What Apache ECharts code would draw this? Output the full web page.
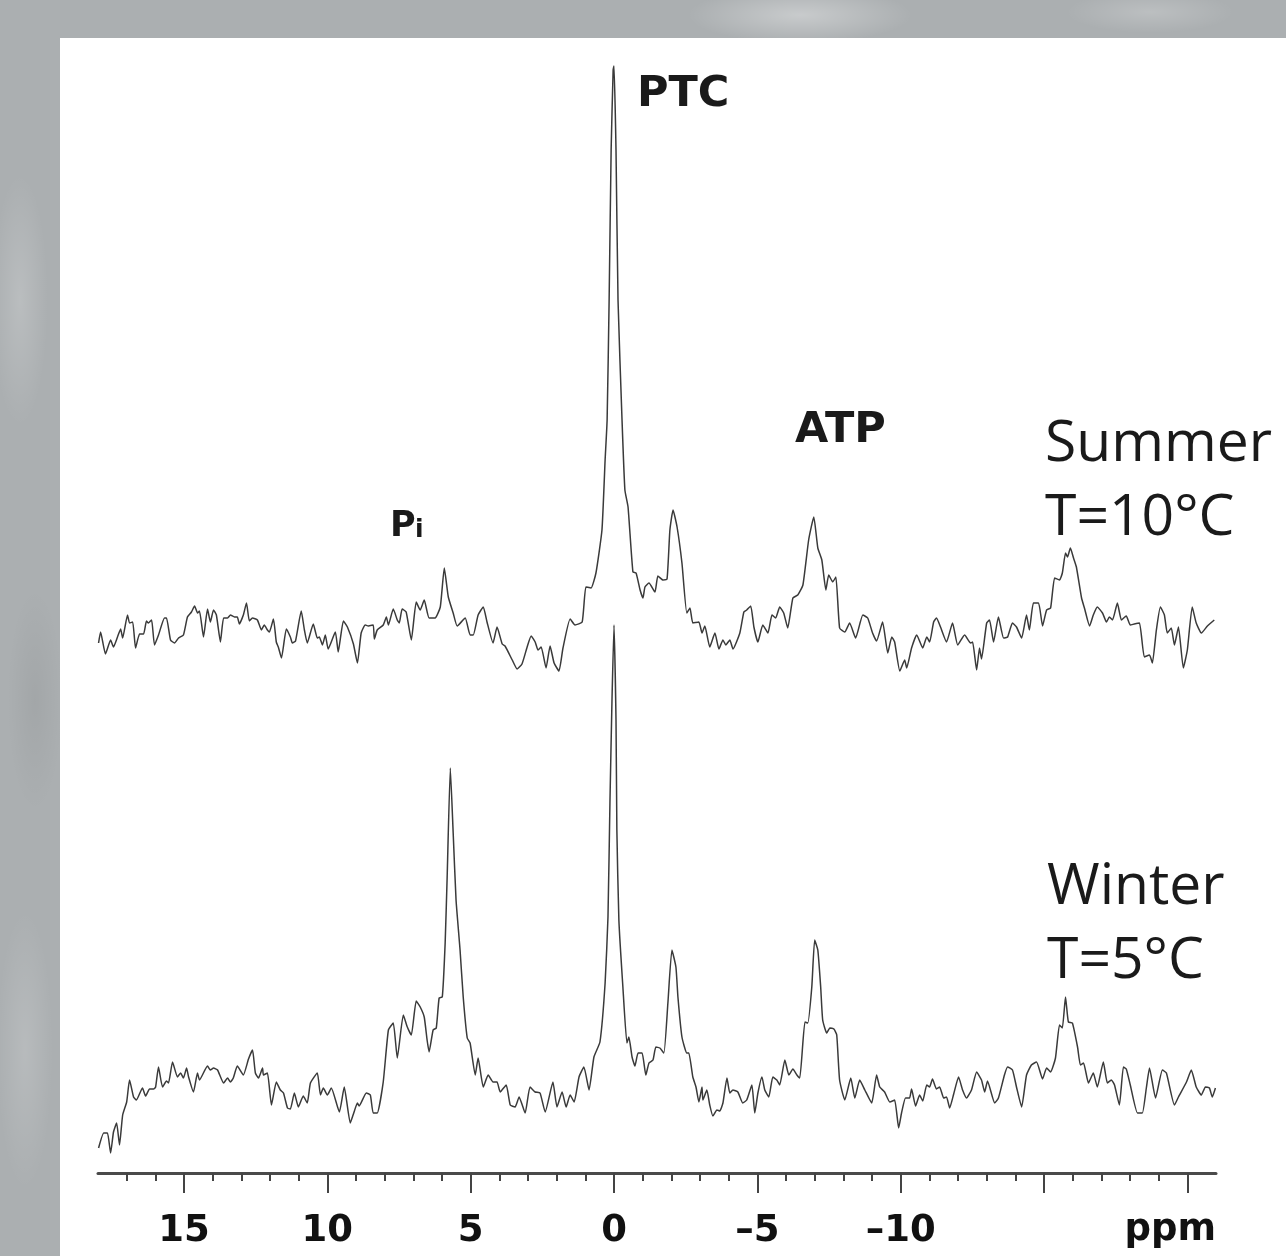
<!DOCTYPE html>
<html>
<head>
<meta charset="utf-8">
<title>31P NMR spectra</title>
<script src="https://cdn.jsdelivr.net/npm/echarts@6/dist/echarts.min.js"></script>
<style>
  html, body { margin: 0; padding: 0; }
  body {
    width: 1286px; height: 1256px; overflow: hidden; position: relative;
    background-color: #abafb1;
    background-image:
      radial-gradient(ellipse 160px 40px at 800px 15px, rgba(255,255,255,0.35), transparent 70%),
      radial-gradient(ellipse 120px 30px at 1150px 12px, rgba(255,255,255,0.2), transparent 70%),
      radial-gradient(ellipse 40px 180px at 20px 300px, rgba(255,255,255,0.18), transparent 70%),
      radial-gradient(ellipse 40px 160px at 35px 700px, rgba(0,0,0,0.05), transparent 70%),
      radial-gradient(ellipse 40px 200px at 25px 1050px, rgba(255,255,255,0.15), transparent 70%);
  }
  #panel { position: absolute; left: 60px; top: 38px; right: 0; bottom: 0; background: #fff; }
  #main { position: absolute; left: 0; top: 0; width: 1286px; height: 1256px; }
</style>
</head>
<body>
<div id="panel"></div>
<div id="main"></div>
<script>
// chemical shift (ppm), intensity (arbitrary units, stacked above the axis)
var summer = [
  [17.98,530],[17.91,541],[17.74,519],[17.56,533],[17.46,526],[17.32,536],[17.21,544],[17.14,535],[16.97,558],[16.90,550],
  [16.79,551],[16.69,525],[16.55,539],[16.41,539],[16.31,552],[16.24,550],[16.13,553],[16.03,528],[15.89,538],[15.68,555],
  [15.61,555],[15.47,533],[15.33,530],[15.19,535],[15.02,538],[14.88,556],[14.74,561],[14.63,567],[14.53,560],[14.46,562],
  [14.32,536],[14.18,564],[14.08,551],[13.97,563],[13.87,558],[13.73,531],[13.62,555],[13.48,555],[13.38,558],[13.24,556],
  [13.14,556],[13.07,549],[12.93,558],[12.82,570],[12.72,552],[12.61,555],[12.44,553],[12.30,543],[12.20,548],[12.09,543],
  [12.02,541],[11.88,554],[11.78,531],[11.71,526],[11.60,515],[11.43,544],[11.29,536],[11.22,530],[11.11,532],[10.91,562],
  [10.80,543],[10.70,530],[10.49,549],[10.35,535],[10.28,536],[10.17,528],[10.07,538],[9.97,524],[9.72,541],[9.62,521],
  [9.44,552],[9.30,546],[9.09,529],[8.95,510],[8.82,540],[8.68,548],[8.57,547],[8.40,548],[8.36,534],[8.26,543],
  [8.05,548],[7.94,556],[7.87,548],[7.70,564],[7.56,553],[7.49,550],[7.39,564],[7.25,561],[7.07,533],[6.90,571],
  [6.76,563],[6.62,573],[6.45,555],[6.24,555],[6.06,566],[5.92,605],[5.78,576],[5.61,560],[5.47,547],[5.19,555],
  [5.02,538],[4.91,538],[4.74,558],[4.56,566],[4.43,551],[4.22,530],[4.08,546],[3.90,529],[3.80,527],[3.55,513],
  [3.38,504],[3.21,509],[3.03,526],[2.89,537],[2.75,531],[2.65,523],[2.54,526],[2.37,505],[2.23,527],[2.09,510],
  [1.92,502],[1.78,525],[1.53,554],[1.36,548],[1.11,551],[0.98,586],[0.80,585],[0.63,600],[0.42,643],[0.31,713],
  [0.24,753],[0.17,873],[0.10,1023],[0.03,1103],[0.00,1107],[-0.07,1023],[-0.14,873],[-0.28,753],[-0.38,683],[-0.49,666],
  [-0.66,601],[-0.77,600],[-0.91,583],[-1.01,575],[-1.08,586],[-1.22,590],[-1.43,581],[-1.53,597],[-1.71,593],[-1.85,594],
  [-1.95,643],[-2.06,663],[-2.20,646],[-2.37,610],[-2.54,560],[-2.65,565],[-2.75,550],[-2.96,551],[-3.07,540],[-3.17,547],
  [-3.34,526],[-3.52,540],[-3.66,524],[-3.80,533],[-3.90,528],[-4.04,533],[-4.15,524],[-4.39,540],[-4.53,561],[-4.63,563],
  [-4.77,567],[-4.88,546],[-5.02,531],[-5.19,548],[-5.37,540],[-5.51,558],[-5.64,555],[-5.78,566],[-5.92,560],[-6.06,545],
  [-6.24,575],[-6.41,578],[-6.59,588],[-6.79,633],[-6.97,656],[-7.11,625],[-7.25,613],[-7.39,583],[-7.49,598],[-7.63,591],
  [-7.74,596],[-7.87,545],[-8.05,541],[-8.22,550],[-8.43,535],[-8.68,558],[-8.85,555],[-9.02,540],[-9.16,532],[-9.37,551],
  [-9.55,520],[-9.69,536],[-9.79,531],[-9.97,502],[-10.14,513],[-10.21,505],[-10.38,525],[-10.56,538],[-10.77,525],[-10.91,536],
  [-11.01,531],[-11.15,551],[-11.25,555],[-11.39,546],[-11.60,531],[-11.81,550],[-11.99,528],[-12.23,538],[-12.44,530],[-12.51,531],
  [-12.65,503],[-12.75,525],[-12.82,514],[-13.00,550],[-13.10,553],[-13.24,531],[-13.41,556],[-13.59,535],[-13.73,536],[-13.90,550],
  [-14.04,546],[-14.22,535],[-14.39,558],[-14.49,543],[-14.63,570],[-14.81,570],[-14.95,547],[-15.09,563],[-15.23,565],[-15.37,595],
  [-15.54,593],[-15.64,600],[-15.75,620],[-15.82,616],[-15.92,625],[-16.03,615],[-16.13,606],[-16.31,575],[-16.41,565],[-16.59,547],
  [-16.72,558],[-16.86,566],[-17.04,560],[-17.18,551],[-17.28,556],[-17.39,553],[-17.56,570],[-17.70,553],[-17.87,557],[-18.01,548],
  [-18.15,549],[-18.33,550],[-18.50,516],[-18.68,518],[-18.78,510],[-18.92,543],[-19.06,566],[-19.20,558],[-19.30,540],[-19.44,545],
  [-19.55,528],[-19.69,546],[-19.86,505],[-20.00,523],[-20.17,566],[-20.31,550],[-20.49,540],[-20.70,547],[-20.94,553]
];

var winter = [
  [17.98,25],[17.80,40],[17.67,40],[17.56,20],[17.46,41],[17.35,50],[17.25,28],[17.14,58],[17.00,71],[16.90,93],
  [16.76,76],[16.66,73],[16.45,85],[16.34,77],[16.20,84],[16.06,84],[15.99,86],[15.89,106],[15.75,86],[15.61,92],
  [15.54,90],[15.40,111],[15.23,96],[15.12,100],[15.02,95],[14.91,105],[14.84,96],[14.67,81],[14.53,100],[14.46,93],
  [14.18,107],[14.08,103],[13.97,105],[13.83,103],[13.62,90],[13.48,95],[13.38,91],[13.28,95],[13.14,107],[12.93,98],
  [12.75,114],[12.61,123],[12.51,100],[12.40,95],[12.26,105],[12.23,98],[12.09,100],[11.95,68],[11.78,91],[11.64,83],
  [11.53,80],[11.39,65],[11.29,64],[11.15,80],[11.01,66],[10.84,77],[10.70,70],[10.59,90],[10.35,100],[10.24,78],
  [10.14,85],[10.00,78],[9.86,85],[9.58,61],[9.41,86],[9.20,50],[9.09,59],[8.95,70],[8.89,67],[8.64,80],
  [8.50,78],[8.40,60],[8.26,60],[8.05,91],[7.87,143],[7.70,150],[7.56,115],[7.35,158],[7.21,146],[7.07,138],
  [6.90,172],[6.76,166],[6.62,156],[6.52,133],[6.45,121],[6.31,143],[6.20,145],[6.10,175],[5.99,176],[5.89,230],
  [5.82,296],[5.71,405],[5.61,340],[5.51,273],[5.37,223],[5.26,176],[5.12,135],[5.02,130],[4.84,98],[4.74,115],
  [4.56,86],[4.39,98],[4.22,91],[4.08,91],[3.97,81],[3.76,88],[3.62,68],[3.45,66],[3.31,76],[3.10,60],
  [2.93,86],[2.75,81],[2.58,80],[2.40,61],[2.13,91],[1.99,66],[1.81,81],[1.67,66],[1.53,78],[1.39,71],
  [1.22,96],[1.05,106],[0.87,83],[0.70,116],[0.49,131],[0.31,190],[0.21,256],[0.14,373],[0.07,473],[0.00,548],
  [-0.07,453],[-0.10,343],[-0.17,253],[-0.31,186],[-0.45,130],[-0.52,136],[-0.63,116],[-0.73,107],[-0.84,120],[-0.98,120],
  [-1.11,98],[-1.22,110],[-1.36,113],[-1.46,126],[-1.60,125],[-1.74,120],[-1.88,170],[-2.02,223],[-2.16,206],[-2.23,176],
  [-2.37,136],[-2.54,120],[-2.61,120],[-2.75,96],[-2.86,86],[-2.96,71],[-3.07,86],[-3.10,73],[-3.24,83],[-3.34,68],
  [-3.45,57],[-3.59,63],[-3.69,62],[-3.80,70],[-3.94,95],[-4.04,80],[-4.15,83],[-4.32,81],[-4.49,70],[-4.63,73],
  [-4.81,88],[-4.91,60],[-5.02,80],[-5.16,96],[-5.26,83],[-5.40,76],[-5.54,96],[-5.68,93],[-5.78,88],[-5.96,113],
  [-6.10,98],[-6.24,104],[-6.38,98],[-6.48,95],[-6.66,151],[-6.76,150],[-6.90,186],[-7.00,233],[-7.11,223],[-7.21,186],
  [-7.28,153],[-7.42,140],[-7.53,145],[-7.67,144],[-7.77,138],[-7.87,93],[-8.05,73],[-8.26,95],[-8.40,75],[-8.57,93],
  [-8.75,83],[-8.99,70],[-9.16,98],[-9.27,86],[-9.44,81],[-9.62,71],[-9.79,73],[-9.93,45],[-10.03,60],[-10.17,75],
  [-10.31,75],[-10.38,84],[-10.52,67],[-10.66,78],[-10.77,72],[-10.91,88],[-11.01,86],[-11.11,94],[-11.25,84],[-11.36,86],
  [-11.50,75],[-11.60,76],[-11.71,65],[-11.85,79],[-12.02,96],[-12.16,83],[-12.30,75],[-12.47,83],[-12.65,101],[-12.82,93],
  [-12.93,81],[-13.03,92],[-13.28,70],[-13.41,75],[-13.62,98],[-13.73,106],[-13.90,103],[-14.04,86],[-14.22,66],[-14.39,98],
  [-14.56,108],[-14.74,111],[-14.95,94],[-15.09,105],[-15.23,101],[-15.40,115],[-15.54,148],[-15.64,145],[-15.75,176],[-15.85,151],
  [-15.99,150],[-16.17,126],[-16.27,108],[-16.38,110],[-16.55,90],[-16.72,100],[-16.86,86],[-17.07,111],[-17.21,90],[-17.35,93],
  [-17.46,88],[-17.63,68],[-17.77,106],[-17.87,104],[-18.01,88],[-18.26,60],[-18.43,60],[-18.57,85],[-18.68,105],[-18.89,75],
  [-19.13,103],[-19.27,100],[-19.55,68],[-19.69,76],[-19.97,91],[-20.14,103],[-20.31,86],[-20.49,78],[-20.63,86],[-20.77,85],
  [-20.87,76],[-20.98,85]
];

var majorTicks = [15, 10, 5, 0, -5, -10, -15, -20];
var labelTicks = [15, 10, 5, 0, -5, -10];
var minorTicks = [];
for (var v = 17; v >= -19; v--) {
  if (v % 5 !== 0) minorTicks.push(v);
}

var boldFont = '"DejaVu Sans", sans-serif';
var plainFont = '"Open Sans", "Noto Sans", sans-serif';

var chart = echarts.init(document.getElementById('main'), null, { renderer: 'canvas' });

var option = {
  animation: false,
  backgroundColor: 'transparent',
  grid: { left: 98, right: 70, top: 38, bottom: 83 },
  xAxis: [
    {
      type: 'value', min: -21, max: 18, inverse: true,
      splitLine: { show: false },
      axisLine: { show: true, onZero: false, lineStyle: { color: '#4a4a4a', width: 3 } },
      axisTick: { show: true, customValues: majorTicks, length: 20, lineStyle: { color: '#444', width: 2 } },
      axisLabel: {
        show: true, customValues: labelTicks, margin: 40,
        fontFamily: boldFont, fontWeight: 'bold', fontSize: 37, color: '#111',
        formatter: function (val) { return val < 0 ? '\u2013' + (-val) : String(val); }
      }
    },
    {
      type: 'value', min: -21, max: 18, inverse: true, position: 'bottom',
      splitLine: { show: false },
      axisLine: { show: false, onZero: false },
      axisTick: { show: true, customValues: minorTicks, length: 8, lineStyle: { color: '#444', width: 2 } },
      axisLabel: { show: false }
    }
  ],
  yAxis: { type: 'value', min: 0, max: 1135, show: false, splitLine: { show: false } },
  series: [
    {
      name: 'Summer', type: 'line', data: summer, showSymbol: false, symbol: 'none', smooth: 0.15,
      lineStyle: { color: '#3a3a3a', width: 1.5 }
    },
    {
      name: 'Winter', type: 'line', data: winter, showSymbol: false, symbol: 'none', smooth: 0.15,
      lineStyle: { color: '#3a3a3a', width: 1.5 }
    }
  ],
  graphic: [
    { type: 'text', left: 637, top: 73, style: { text: 'PTC', font: 'bold 43px ' + boldFont, fill: '#1a1a1a' } },
    { type: 'text', left: 795, top: 409, style: { text: 'ATP', font: 'bold 43px ' + boldFont, fill: '#1a1a1a' } },
    { type: 'text', left: 390, top: 509, style: { text: 'P', font: 'bold 35px ' + boldFont, fill: '#1a1a1a' } },
    { type: 'text', left: 415, top: 518, style: { text: 'i', font: 'bold 25px ' + boldFont, fill: '#1a1a1a' } },
    { type: 'text', left: 1045, top: 416, style: { text: 'Summer', font: '57px ' + plainFont, fill: '#1a1a1a' } },
    { type: 'text', left: 1045, top: 490, style: { text: 'T=10\u00b0C', font: '57px ' + plainFont, fill: '#1a1a1a' } },
    { type: 'text', left: 1047, top: 859, style: { text: 'Winter', font: '57px ' + plainFont, fill: '#1a1a1a' } },
    { type: 'text', left: 1047, top: 933, style: { text: 'T=5\u00b0C', font: '57px ' + plainFont, fill: '#1a1a1a' } },
    { type: 'text', right: 70, top: 1212, style: { text: 'ppm', font: 'bold 37px ' + boldFont, fill: '#111' } }
  ]
};

chart.setOption(option);
</script>
</body>
</html>
